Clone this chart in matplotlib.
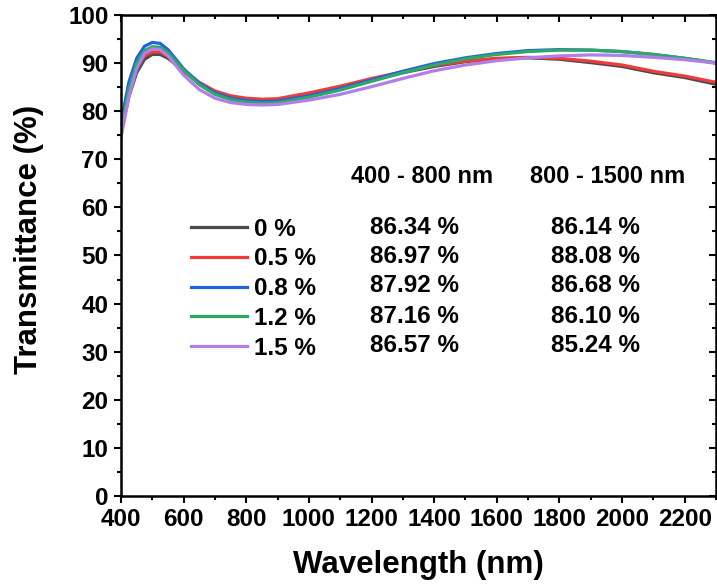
import matplotlib
matplotlib.use("Agg")
import matplotlib.pyplot as plt
from matplotlib.ticker import MultipleLocator

wavelength = [400, 425, 450, 475, 500, 525, 550, 575, 600, 650, 700, 750, 800, 850, 900,
              1000, 1100, 1200, 1300, 1400, 1500, 1600, 1700, 1800, 1900, 2000, 2100, 2200, 2300]
t_0 = [75.5, 83.0, 88.0, 90.8, 91.8, 91.8, 91.0, 89.7, 88.3, 85.8, 84.0, 83.0, 82.5, 82.3, 82.4,
       83.5, 84.9, 86.5, 88.0, 89.3, 90.3, 90.9, 91.1, 90.8, 90.1, 89.3, 88.0, 87.0, 85.6]
t_05 = [77.0, 84.0, 89.0, 91.5, 92.3, 92.3, 91.4, 90.0, 88.5, 86.0, 84.2, 83.2, 82.7, 82.5, 82.6,
        83.8, 85.2, 86.8, 88.2, 89.5, 90.4, 91.0, 91.2, 91.0, 90.4, 89.6, 88.3, 87.3, 86.0]
t_08 = [77.5, 86.0, 91.0, 93.5, 94.3, 94.1, 92.8, 90.8, 88.8, 85.8, 83.8, 82.7, 82.2, 82.0, 82.1,
        83.2, 84.7, 86.5, 88.3, 89.9, 91.1, 92.0, 92.6, 92.8, 92.7, 92.4, 91.8, 91.0, 90.0]
t_12 = [76.0, 84.5, 90.0, 92.6, 93.4, 93.3, 92.2, 90.3, 88.5, 85.5, 83.5, 82.4, 81.9, 81.7, 81.8,
        82.9, 84.4, 86.2, 88.0, 89.6, 90.9, 91.8, 92.4, 92.7, 92.7, 92.4, 91.8, 91.0, 90.1]
t_15 = [74.5, 83.0, 88.8, 92.0, 93.0, 92.8, 91.5, 89.5, 87.5, 84.5, 82.7, 81.8, 81.4, 81.3, 81.4,
        82.3, 83.5, 85.1, 86.8, 88.4, 89.6, 90.5, 91.1, 91.5, 91.7, 91.6, 91.2, 90.7, 90.0]

labels = ["0 %", "0.5 %", "0.8 %", "1.2 %", "1.5 %"]
colors = ["#4a4a4a", "#ee3b3b", "#1f63e0", "#2fa866", "#b27ee8"]
avg_vis = ["86.34 %", "86.97 %", "87.92 %", "87.16 %", "86.57 %"]
avg_nir = ["86.14 %", "88.08 %", "86.68 %", "86.10 %", "85.24 %"]
headers = ["400 - 800 nm", "800 - 1500 nm"]

plt.rcParams['font.family'] = ['Liberation Sans', 'DejaVu Sans']
plt.rcParams['font.weight'] = 'bold'

fig = plt.figure(figsize=(7.17, 5.88), dpi=100)
ax = fig.add_axes([121 / 717, 1 - 496 / 588, 595 / 717, 481 / 588])

series = [t_0, t_05, t_08, t_12, t_15]
handles = []
for ys, c, lab in zip(series, colors, labels):
    h, = ax.plot(wavelength, ys, color=c, lw=2.3, label=lab)
    handles.append(h)

ax.set_xlim(400, 2300)
ax.set_ylim(0, 100)
ax.xaxis.set_major_locator(MultipleLocator(200))
ax.xaxis.set_minor_locator(MultipleLocator(100))
ax.yaxis.set_major_locator(MultipleLocator(10))
ax.yaxis.set_minor_locator(MultipleLocator(5))
ax.tick_params(which='both', direction='out', width=1.5, labelsize=17.5, pad=4)
ax.tick_params(which='major', length=5)
ax.tick_params(which='minor', length=3)
for s in ax.spines.values():
    s.set_linewidth(1.8)

# mirrored inward ticks on top/right
secx = ax.secondary_xaxis('top')
secx.xaxis.set_major_locator(MultipleLocator(200))
secx.xaxis.set_minor_locator(MultipleLocator(100))
secx.tick_params(which='both', direction='in', width=1.5, labeltop=False)
secx.tick_params(which='major', length=5)
secx.tick_params(which='minor', length=3)
secy = ax.secondary_yaxis('right')
secy.yaxis.set_major_locator(MultipleLocator(10))
secy.yaxis.set_minor_locator(MultipleLocator(5))
secy.tick_params(which='both', direction='in', width=1.5, labelright=False)
secy.tick_params(which='major', length=5)
secy.tick_params(which='minor', length=3)

ax.set_xlabel("Wavelength (nm)", fontsize=22.5, fontweight='bold', va='center')
ax.xaxis.set_label_coords(0.5, -0.1435)
ax.set_ylabel("Transmittance (%)", fontsize=22.5, fontweight='bold', va='center')
ax.yaxis.set_label_coords(-0.155, 0.534)

leg = ax.legend(handles=handles, loc='upper left', bbox_to_anchor=(0.118, 0.579), frameon=False,
                handlelength=2.3, handletextpad=0.3, labelspacing=0.28,
                borderaxespad=0, borderpad=0, prop={'weight': 'bold', 'size': 17.5})

row_y = [0.559, 0.497, 0.437, 0.374, 0.312]
for y, v1, v2 in zip(row_y, avg_vis, avg_nir):
    ax.text(0.418, y, v1, transform=ax.transAxes, fontsize=17.5, fontweight='bold', va='center')
    ax.text(0.723, y, v2, transform=ax.transAxes, fontsize=17.5, fontweight='bold', va='center')
ax.text(0.506, 0.665, headers[0], transform=ax.transAxes, fontsize=17, fontweight='bold',
        ha='center', va='center')
ax.text(0.818, 0.665, headers[1], transform=ax.transAxes, fontsize=17, fontweight='bold',
        ha='center', va='center')

fig.savefig("out.png", dpi=100)
